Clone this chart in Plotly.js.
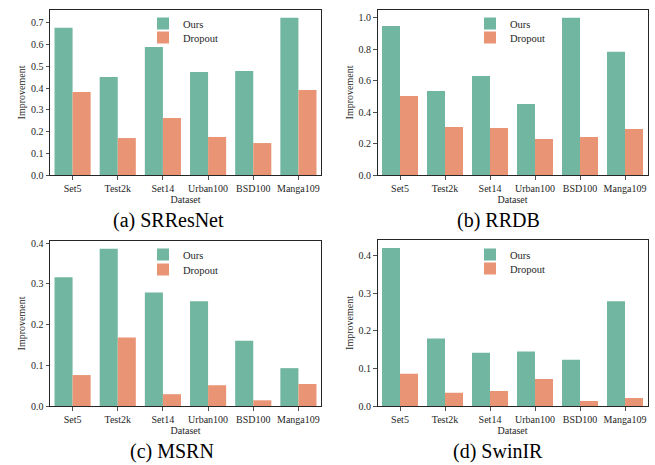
<!DOCTYPE html>
<html>
<head>
<meta charset="utf-8">
<script src="https://cdn.plot.ly/plotly-3.0.1.min.js"></script>
<style>html,body{margin:0;padding:0;background:#fff;}#chart{width:655px;height:465px;}</style>
</head>
<body>
<div id="chart"></div>
<script>
const datasets = ["Set5", "Test2k", "Set14", "Urban100", "BSD100", "Manga109"];
const seriesNames = ["Ours", "Dropout"];
const panelTitles = ["(a) SRResNet", "(b) RRDB", "(c) MSRN", "(d) SwinIR"];

const srresnetOurs    = [0.677, 0.451, 0.589, 0.474, 0.479, 0.723];
const srresnetDropout = [0.382, 0.170, 0.262, 0.175, 0.147, 0.391];
const rrdbOurs        = [0.947, 0.534, 0.629, 0.451, 0.998, 0.782];
const rrdbDropout     = [0.502, 0.305, 0.299, 0.229, 0.242, 0.292];
const msrnOurs        = [0.316, 0.386, 0.279, 0.257, 0.160, 0.093];
const msrnDropout     = [0.076, 0.168, 0.029, 0.051, 0.014, 0.054];
const swinirOurs      = [0.421, 0.180, 0.142, 0.145, 0.123, 0.279];
const swinirDropout   = [0.086, 0.035, 0.040, 0.072, 0.013, 0.021];

const yTickVals = [
  [0, 0.1, 0.2, 0.3, 0.4, 0.5, 0.6, 0.7],
  [0, 0.2, 0.4, 0.6, 0.8, 1.0],
  [0, 0.1, 0.2, 0.3, 0.4],
  [0, 0.1, 0.2, 0.3, 0.4]
];

const W = 655, H = 465;
const green = "#71B6A1", orange = "#E99575", ink = "#262626";
const FONT = "Liberation Serif";

const panelSeries = [
  [srresnetOurs, srresnetDropout],
  [rrdbOurs, rrdbDropout],
  [msrnOurs, msrnDropout],
  [swinirOurs, swinirDropout]
];
// pixel boxes [left, right, top, bottom]
const boxes = [
  [50, 321, 10, 175],
  [377.5, 647.5, 10, 175],
  [50, 321, 241, 406],
  [377.5, 647.5, 240, 406]
];
// legend top-left (px) for [Ours, Dropout] per panel
const legendPos = [
  [[143, 9], [143, 23]],
  [[470, 9], [470, 23]],
  [[143, 240], [143, 255]],
  [[470, 240], [470, 254]]
];
const captionPos = [[169, 220], [498, 220], [172, 451], [498, 451]];

const traces = [];
const layout = {
  width: W, height: H,
  margin: {l: 0, r: 0, t: 0, b: 0},
  paper_bgcolor: "#fff", plot_bgcolor: "#fff",
  showlegend: true,
  barmode: "group", bargap: 0.2, bargroupgap: 0,
  font: {family: FONT, color: ink, size: 10},
  annotations: []
};

let legIdx = 0;
panelSeries.forEach((pair, i) => {
  const n = i === 0 ? "" : String(i + 1);
  [green, orange].forEach((c, k) => {
    legIdx += 1;
    const legName = "legend" + (legIdx + 1);
    traces.push({
      type: "bar",
      x: datasets,
      y: pair[k],
      name: seriesNames[k],
      marker: {color: c, line: {width: 0}},
      xaxis: "x" + n,
      yaxis: "y" + n,
      legend: legName,
      showlegend: true,
      hoverinfo: "skip"
    });
    layout[legName] = {
      x: legendPos[i][k][0] / W, y: 1 - legendPos[i][k][1] / H,
      xanchor: "left", yanchor: "top",
      bgcolor: "rgba(0,0,0,0)", borderwidth: 0,
      font: {family: FONT, size: 10.5, color: ink}
    };
  });
  const maxV = Math.max(...pair[0], ...pair[1]);
  const b = boxes[i];
  const axCommon = {
    showline: true, mirror: true, linecolor: ink, linewidth: 1,
    ticks: "outside", ticklen: 3.5, tickwidth: 0.8, tickcolor: ink,
    showgrid: false, zeroline: false,
    tickfont: {family: FONT, size: 10, color: ink}
  };
  layout["xaxis" + n] = Object.assign({}, axCommon, {
    domain: [b[0] / W, b[1] / W],
    anchor: "y" + n,
    type: "category",
    range: [-0.5, 5.5],
    title: {text: "Dataset", font: {family: FONT, size: 10, color: ink}, standoff: 3}
  });
  layout["yaxis" + n] = Object.assign({}, axCommon, {
    domain: [1 - b[3] / H, 1 - b[2] / H],
    anchor: "x" + n,
    range: [0, maxV * 1.05],
    tickvals: yTickVals[i],
    tickformat: ".1f",
    title: {text: "Improvement", font: {family: FONT, size: 10, color: ink}, standoff: 3}
  });
  layout.annotations.push({
    xref: "paper", yref: "paper",
    x: captionPos[i][0] / W, y: 1 - captionPos[i][1] / H,
    xanchor: "center", yanchor: "middle",
    text: panelTitles[i], showarrow: false,
    font: {family: FONT, size: 20, color: "#000"}
  });
});

Plotly.newPlot("chart", traces, layout, {displayModeBar: false, staticPlot: true});
</script>
</body>
</html>
